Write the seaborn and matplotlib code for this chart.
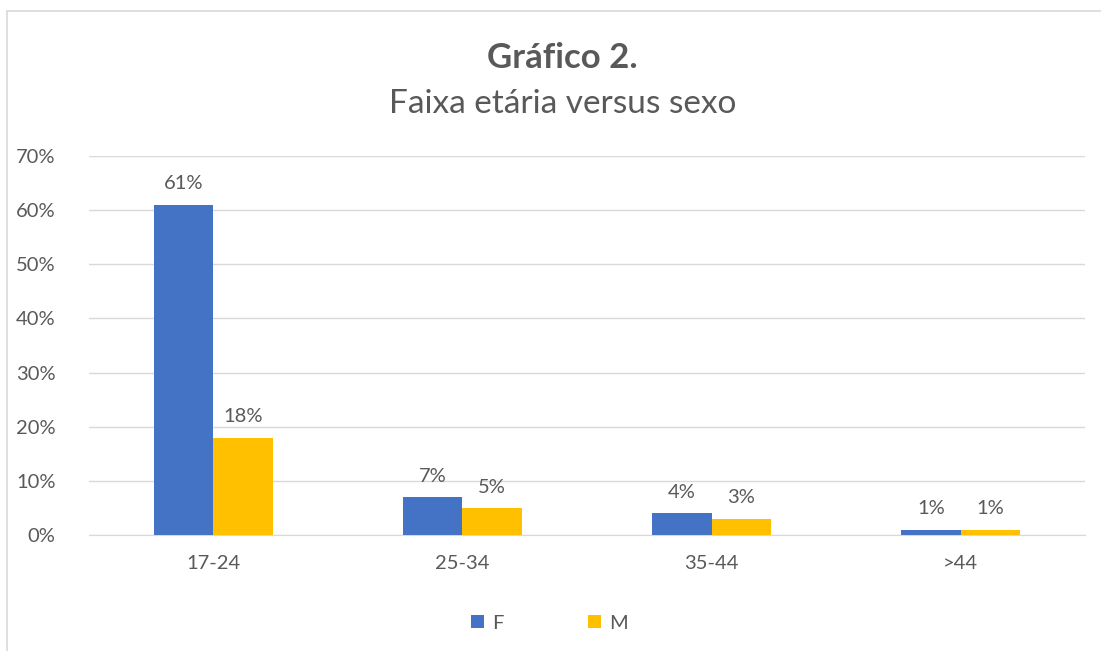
import pandas as pd
import matplotlib
matplotlib.use("Agg")
import matplotlib.pyplot as plt
import seaborn as sns
from matplotlib.lines import Line2D
from matplotlib.ticker import PercentFormatter

# dados
faixas = ["17-24", "25-34", "35-44", ">44"]
feminino = [61, 7, 4, 1]
masculino = [18, 5, 3, 1]
sexos = ["F", "M"]
cores = ["#4472C4", "#FFC000"]

df = pd.DataFrame({
    "faixa": faixas * 2,
    "valor": feminino + masculino,
    "sexo": ["F"] * len(faixas) + ["M"] * len(faixas),
})

sns.set_style("white")
plt.rcParams["font.family"] = ["Lato", "DejaVu Sans"]
texto = "#595959"

fig = plt.figure(figsize=(11.01, 6.51), dpi=100)
ax = fig.add_axes([0.0808, 0.178, 0.9047, 0.5824])

sns.barplot(data=df, x="faixa", y="valor", hue="sexo", hue_order=sexos,
            palette=cores, width=0.475, saturation=1, linewidth=0,
            ax=ax, zorder=3)

for cont in ax.containers:
    ax.bar_label(cont, fmt="%.0f%%", padding=9, color=texto, fontsize=14.5)

ax.set_xlim(-0.5, 3.5)
ax.set_ylim(0, 70)
ax.set_yticks(range(0, 71, 10))
ax.yaxis.set_major_formatter(PercentFormatter(decimals=0))
ax.grid(axis="y", color="#D9D9D9", linewidth=1, zorder=0)
for s in ["top", "right", "left"]:
    ax.spines[s].set_visible(False)
ax.spines["bottom"].set_color("#D9D9D9")
ax.tick_params(axis="both", length=0, labelsize=14.5, labelcolor=texto)
ax.tick_params(axis="y", pad=24)
ax.tick_params(axis="x", pad=14)
ax.set_xlabel("")
ax.set_ylabel("")

ax.legend(loc="center", bbox_to_anchor=(0.462, -0.232), ncol=2, frameon=False,
          fontsize=14.5, labelcolor=texto, handlelength=0.65, handleheight=0.65,
          handletextpad=0.4, columnspacing=4.2)

fig.text(0.511, 0.911, "Gráfico 2.", ha="center", va="center",
         fontsize=25, fontweight="bold", color=texto)
fig.text(0.511, 0.84, "Faixa etária versus sexo", ha="center", va="center",
         fontsize=24, color=texto)

# moldura
fig.add_artist(Line2D([7 / 1101, 1], [1 - 11 / 651, 1 - 11 / 651],
                      transform=fig.transFigure, color="#D9D9D9", lw=1.2))
fig.add_artist(Line2D([7 / 1101, 7 / 1101], [0, 1 - 11 / 651],
                      transform=fig.transFigure, color="#D9D9D9", lw=1.2))

fig.savefig("out.png", dpi=100)
